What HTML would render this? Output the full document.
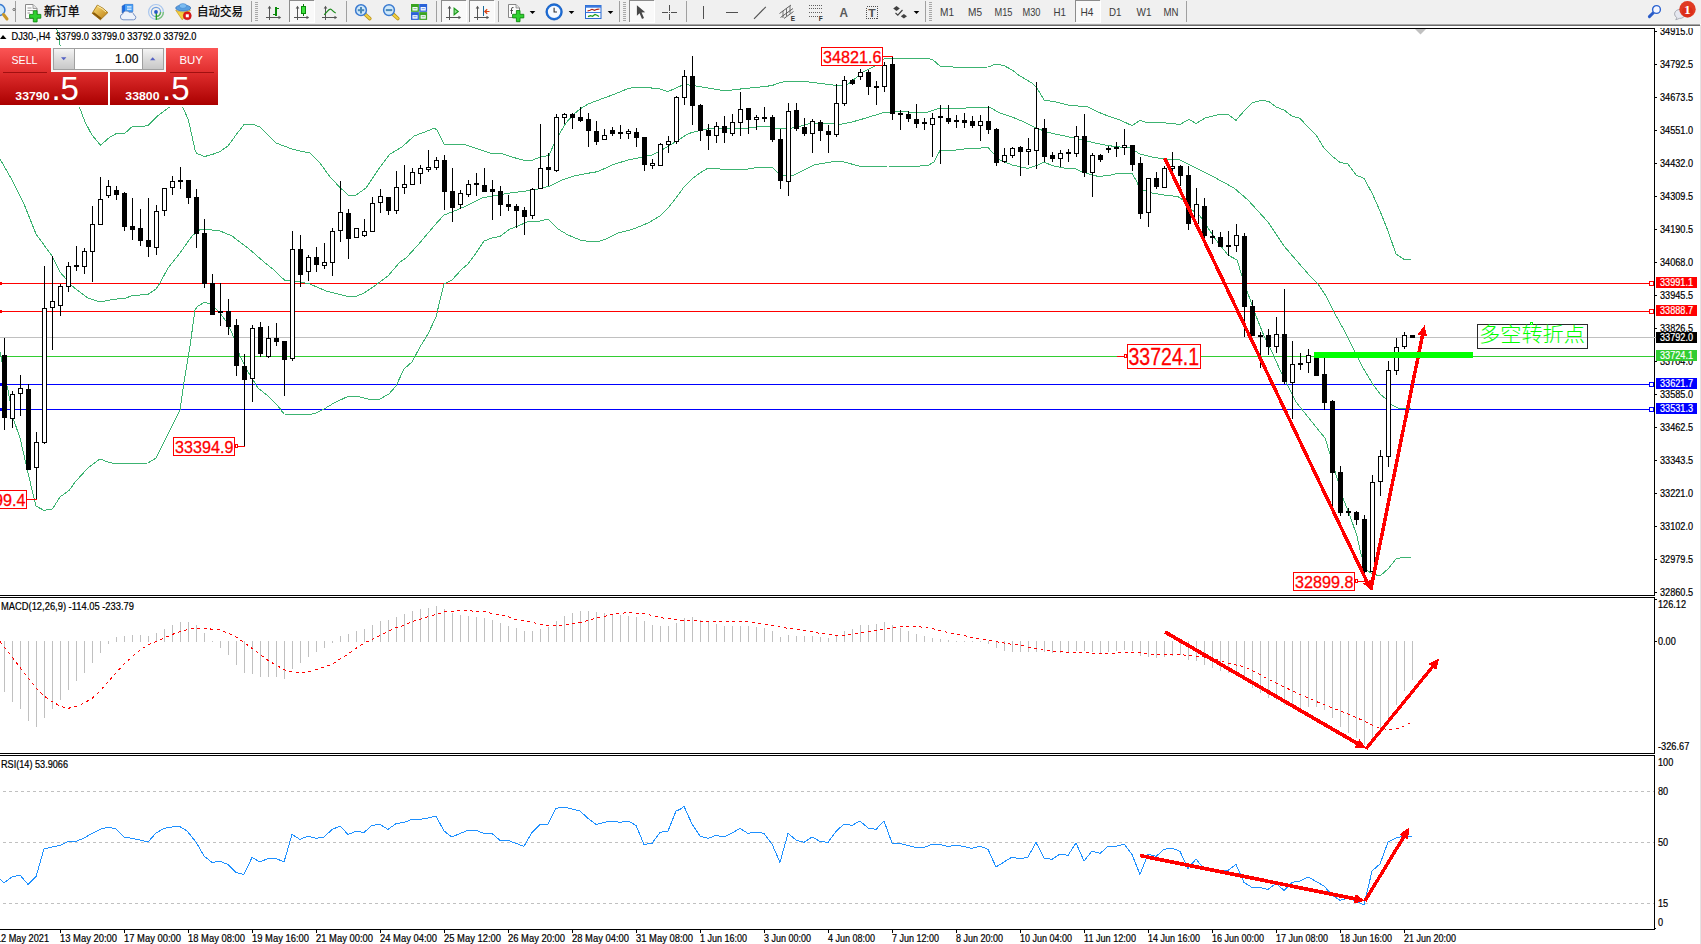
<!DOCTYPE html>
<html lang="zh"><head><meta charset="utf-8"><title>DJ30-,H4</title>
<style>html,body{margin:0;padding:0;background:#fff;overflow:hidden}svg{display:block}text{font-family:"Liberation Sans","Noto Sans CJK SC",sans-serif}.ce{shape-rendering:crispEdges}.ax{font-size:10.1px;fill:#000;stroke:#000;stroke-width:0.2px}.tb{font-size:11px;fill:#3c3c3c}</style></head><body>
<svg width="1701" height="944" viewBox="0 0 1701 944">
<defs><linearGradient id="gr" x1="0" y1="0" x2="0" y2="1"><stop offset="0" stop-color="#fb5555"/><stop offset="0.42" stop-color="#e02e2e"/><stop offset="1" stop-color="#aa0000"/></linearGradient><linearGradient id="gb" x1="0" y1="0" x2="0" y2="1"><stop offset="0" stop-color="#f4f4f4"/><stop offset="0.5" stop-color="#dcdcdc"/><stop offset="1" stop-color="#c8c8c8"/></linearGradient><linearGradient id="gold" x1="0" y1="0" x2="1" y2="1"><stop offset="0" stop-color="#ffe27a"/><stop offset="1" stop-color="#b87a10"/></linearGradient><linearGradient id="blu" x1="0" y1="0" x2="0" y2="1"><stop offset="0" stop-color="#6fb4f7"/><stop offset="1" stop-color="#1c5fd0"/></linearGradient><radialGradient id="lens" cx="0.4" cy="0.35" r="0.7"><stop offset="0" stop-color="#ffffff"/><stop offset="1" stop-color="#9cc8f5"/></radialGradient></defs>
<rect x="0" y="0" width="1701" height="944" fill="#ffffff"/>
<g id="chart">
<rect class="ce" x="0" y="337" width="1654" height="1" fill="#c0c0c0"/>
<rect class="ce" x="0" y="283" width="1654" height="1" fill="#ff0000"/>
<rect class="ce" x="0" y="311" width="1654" height="1" fill="#ff0000"/>
<rect class="ce" x="0" y="356" width="1654" height="1" fill="#32cd32"/>
<rect class="ce" x="0" y="384" width="1654" height="1" fill="#0000ff"/>
<rect class="ce" x="0" y="409" width="1654" height="1" fill="#0000ff"/>
<rect class="ce" x="1649" y="281" width="5" height="5" fill="#ff0000"/><rect class="ce" x="1650" y="282" width="3" height="3" fill="#fff"/>
<rect class="ce" x="0" y="282" width="2" height="3" fill="#ff0000"/>
<rect class="ce" x="1649" y="309" width="5" height="5" fill="#ff0000"/><rect class="ce" x="1650" y="310" width="3" height="3" fill="#fff"/>
<rect class="ce" x="0" y="310" width="2" height="3" fill="#ff0000"/>
<rect class="ce" x="1649" y="382" width="5" height="5" fill="#0000ff"/><rect class="ce" x="1650" y="383" width="3" height="3" fill="#fff"/>
<rect class="ce" x="0" y="383" width="2" height="3" fill="#0000ff"/>
<rect class="ce" x="1649" y="407" width="5" height="5" fill="#0000ff"/><rect class="ce" x="1650" y="408" width="3" height="3" fill="#fff"/>
<rect class="ce" x="0" y="408" width="2" height="3" fill="#0000ff"/>
<polyline class="ce" points="56.3,28.5 57.5,30.5 57.5,34.5 59.4,37.0 59.5,44.8 60.6,45.8 66.0,66.0 72.0,86.0 79.4,107.1 81.2,111.8 84.7,121.2 91.7,134.7 100.6,145.3 109.4,137.4 116.4,133.5 124.7,133.5 132.3,126.5 143.5,126.5 148.8,124.9 157.6,115.9 169.3,107.3 173.0,103.0 176.0,101.0 179.0,103.0 182.3,107.1 184.2,110.0 188.5,120.6 190.6,130.0 193.2,141.8 195.4,151.3 197.0,153.4 204.4,156.6 212.8,154.3 219.9,151.6 228.0,146.0 236.0,135.0 244.0,124.4 252.0,124.0 260.0,127.0 268.0,135.0 276.0,143.0 284.0,146.0 292.0,149.0 300.0,151.0 310.0,153.0 320.0,163.0 330.0,177.0 339.6,187.0 349.0,196.0 356.0,195.0 366.0,188.0 378.0,170.0 390.0,154.0 402.0,147.0 414.0,136.0 430.0,130.0 434.0,128.0 437.0,130.0 444.0,144.0 455.0,144.5 466.0,145.0 478.0,149.0 490.0,153.0 502.0,153.6 514.0,157.6 524.0,160.4 532.0,160.4 540.0,157.0 549.0,155.6 554.0,144.0 560.0,133.0 566.0,123.0 573.0,115.0 580.0,109.0 588.0,104.0 604.0,98.0 616.0,93.6 628.0,88.6 636.0,87.2 648.0,87.6 660.0,89.0 668.0,91.6 676.0,88.0 684.0,84.4 696.0,86.0 708.0,88.0 720.0,90.0 732.0,90.0 744.0,88.6 760.0,87.0 772.0,85.6 780.0,82.6 788.0,81.0 800.0,81.0 812.0,82.4 820.0,83.4 828.0,84.4 836.0,85.3 841.0,85.5 847.0,85.0 854.0,79.5 857.7,76.5 863.0,71.8 875.0,66.0 883.0,59.6 884.5,58.5 900.0,58.5 928.0,58.4 933.0,60.0 940.0,66.0 960.0,67.6 988.0,67.0 996.0,64.0 1004.0,65.6 1012.0,70.0 1020.0,76.0 1032.0,83.0 1037.0,88.0 1044.0,100.0 1056.0,102.0 1068.0,105.0 1088.0,107.0 1098.0,112.0 1108.0,116.0 1120.0,120.0 1132.0,125.6 1140.0,120.4 1148.0,123.0 1160.0,122.4 1180.0,124.4 1189.0,119.4 1196.0,123.4 1206.0,117.6 1220.0,114.4 1228.0,114.4 1236.0,120.4 1244.0,111.0 1252.0,103.0 1262.0,100.0 1269.0,101.6 1276.0,107.0 1284.0,110.0 1292.0,116.0 1300.0,118.4 1308.0,127.0 1316.0,135.0 1324.0,148.0 1332.0,156.0 1340.0,162.4 1348.0,164.0 1356.0,175.0 1364.0,178.4 1372.0,193.0 1380.0,211.0 1388.0,231.0 1396.0,254.0 1404.0,259.4 1411.4,259.2" fill="none" stroke="#3cb371" stroke-width="1" stroke-linejoin="round"/>
<polyline class="ce" points="0.0,159.0 12.0,180.0 24.0,204.0 36.0,234.0 52.0,256.0 60.0,272.0 72.0,286.0 88.0,298.0 100.0,302.0 112.0,299.6 126.0,298.0 132.0,295.6 148.0,294.4 156.0,289.0 160.0,283.0 168.0,268.0 180.0,253.0 192.0,236.0 200.0,229.6 212.0,230.0 220.0,231.0 232.0,236.0 248.0,248.0 264.0,262.0 274.0,270.0 280.0,276.0 285.0,280.4 300.0,282.0 310.0,284.0 326.0,291.0 348.0,296.4 356.0,296.4 364.0,293.0 376.0,285.0 388.0,276.0 400.0,262.0 406.0,258.0 418.0,245.0 434.0,226.0 444.0,215.0 452.0,212.0 466.0,206.0 482.0,198.0 498.0,195.0 510.0,193.0 526.0,191.0 538.0,189.0 550.0,186.0 562.0,180.0 574.0,176.0 586.0,173.6 598.0,171.6 612.0,165.0 628.0,160.0 640.0,157.6 652.0,155.0 660.0,151.0 672.0,144.0 680.0,139.0 686.0,135.0 692.0,132.4 700.0,130.4 712.0,128.0 724.0,128.0 736.0,129.0 748.0,128.0 760.0,126.6 768.0,126.4 780.0,129.0 792.0,128.0 800.0,126.4 812.0,123.0 828.0,123.0 840.0,124.4 852.0,122.0 866.0,118.0 884.0,112.4 900.0,111.6 916.0,112.4 928.0,112.0 940.0,108.0 960.0,108.4 980.0,107.0 989.0,107.0 1000.0,113.0 1012.0,117.0 1024.0,122.0 1036.0,128.0 1048.0,132.4 1060.0,135.0 1072.0,137.6 1086.0,141.0 1098.0,143.6 1108.0,145.6 1120.0,147.0 1130.0,148.0 1140.0,154.0 1152.0,157.0 1164.0,159.0 1180.0,160.0 1196.0,168.0 1212.0,176.0 1234.0,188.0 1248.0,200.0 1268.0,222.0 1284.0,246.0 1296.0,260.0 1310.0,276.0 1318.0,284.0 1326.0,296.0 1334.0,312.0 1344.0,330.0 1354.0,350.0 1362.0,366.0 1372.0,383.0 1380.0,394.0 1386.0,399.0 1392.0,405.0 1398.0,408.0 1411.0,408.4" fill="none" stroke="#3cb371" stroke-width="1" stroke-linejoin="round"/>
<polyline class="ce" points="0.0,352.0 4.0,372.0 8.0,390.0 13.0,418.0 20.0,438.0 26.0,464.0 32.0,490.0 36.0,506.0 44.0,510.4 52.4,509.0 60.0,497.0 69.0,490.4 76.0,481.0 88.0,468.0 100.0,459.0 108.0,462.0 116.0,464.0 128.0,463.4 148.0,463.0 156.0,458.0 160.0,450.0 175.0,420.0 180.0,410.0 184.0,382.0 190.0,346.0 195.0,310.0 198.0,306.0 205.0,302.0 212.0,305.0 220.0,313.0 228.0,324.0 234.0,338.0 240.0,356.0 248.0,372.0 258.0,388.0 268.0,396.0 278.0,406.0 284.0,414.0 300.0,414.4 310.0,414.4 316.0,413.0 324.0,409.0 334.0,403.0 348.0,396.4 358.0,396.4 368.0,399.0 380.0,399.0 389.0,394.0 396.0,386.0 404.0,369.0 412.0,362.0 420.0,347.0 428.0,334.0 436.0,317.0 440.0,300.0 444.0,284.0 452.0,280.0 462.0,269.0 468.0,264.0 474.0,256.0 484.0,241.0 492.0,238.0 500.0,236.4 510.0,229.0 518.0,226.0 528.0,221.6 540.0,221.0 548.0,219.0 558.0,229.0 568.0,235.0 580.0,240.0 590.0,241.6 600.0,241.0 606.0,239.0 618.0,233.0 630.0,230.0 634.0,228.8 648.0,223.0 660.0,216.0 668.0,208.0 676.0,198.0 684.0,187.0 692.0,179.0 700.0,173.0 708.0,168.0 720.0,169.0 736.0,169.6 748.0,169.0 760.0,167.0 772.0,167.0 778.0,173.0 782.0,176.0 794.0,175.0 804.0,170.0 814.0,165.0 828.0,162.4 840.0,161.0 848.0,163.0 860.0,166.4 888.0,166.0 912.0,166.4 928.0,165.6 934.0,162.0 940.0,150.6 948.0,151.0 964.0,149.0 988.0,147.6 994.0,154.0 1000.0,160.0 1012.0,165.0 1028.0,168.4 1038.0,165.0 1044.0,162.0 1052.0,165.6 1064.0,168.0 1076.0,169.0 1082.0,172.0 1098.0,176.4 1108.0,175.6 1120.0,173.0 1132.0,173.6 1136.0,180.0 1140.0,189.0 1152.0,193.0 1164.0,195.0 1178.0,196.6 1183.0,200.0 1192.0,210.0 1200.0,216.0 1208.0,228.0 1216.0,240.0 1228.0,255.0 1237.0,260.0 1242.0,276.0 1247.0,291.0 1256.0,316.0 1264.0,336.0 1272.0,352.0 1280.0,370.0 1288.0,386.0 1296.0,402.0 1304.0,412.0 1312.0,422.0 1320.0,432.0 1325.0,438.0 1330.0,454.0 1337.0,478.0 1343.0,498.0 1350.0,516.0 1357.0,536.0 1361.0,554.0 1366.0,570.0 1373.0,574.0 1380.0,576.0 1388.0,569.0 1396.0,559.0 1404.0,557.0 1411.4,557.0" fill="none" stroke="#3cb371" stroke-width="1" stroke-linejoin="round"/>
<g class="ce" fill="#000"><rect x="4" y="338" width="1" height="92"/><rect x="2" y="355" width="5" height="63"/><rect x="12" y="391" width="1" height="37"/><rect x="10" y="394" width="5" height="25"/><rect x="11" y="395" width="3" height="23" fill="#fff"/><rect x="20" y="375" width="1" height="41"/><rect x="18" y="388" width="5" height="6"/><rect x="19" y="389" width="3" height="4" fill="#fff"/><rect x="28" y="384" width="1" height="86"/><rect x="26" y="389" width="5" height="81"/><rect x="36" y="432" width="1" height="68"/><rect x="34" y="442" width="5" height="26"/><rect x="35" y="443" width="3" height="24" fill="#fff"/><rect x="44" y="266" width="1" height="178"/><rect x="42" y="308" width="5" height="135"/><rect x="43" y="309" width="3" height="133" fill="#fff"/><rect x="52" y="256" width="1" height="94"/><rect x="50" y="301" width="5" height="7"/><rect x="51" y="302" width="3" height="5" fill="#fff"/><rect x="60" y="284" width="1" height="32"/><rect x="58" y="286" width="5" height="20"/><rect x="59" y="287" width="3" height="18" fill="#fff"/><rect x="68" y="262" width="1" height="30"/><rect x="66" y="266" width="5" height="21"/><rect x="67" y="267" width="3" height="19" fill="#fff"/><rect x="76" y="246" width="1" height="25"/><rect x="74" y="265" width="5" height="2"/><rect x="84" y="248" width="1" height="26"/><rect x="82" y="251" width="5" height="16"/><rect x="83" y="252" width="3" height="14" fill="#fff"/><rect x="92" y="206" width="1" height="76"/><rect x="90" y="224" width="5" height="28"/><rect x="91" y="225" width="3" height="26" fill="#fff"/><rect x="100" y="177" width="1" height="48"/><rect x="98" y="199" width="5" height="26"/><rect x="99" y="200" width="3" height="24" fill="#fff"/><rect x="108" y="180" width="1" height="18"/><rect x="106" y="186" width="5" height="10"/><rect x="107" y="187" width="3" height="8" fill="#fff"/><rect x="116" y="186" width="1" height="14"/><rect x="114" y="190" width="5" height="5"/><rect x="124" y="192" width="1" height="39"/><rect x="122" y="193" width="5" height="34"/><rect x="132" y="198" width="1" height="42"/><rect x="130" y="226" width="5" height="4"/><rect x="140" y="209" width="1" height="37"/><rect x="138" y="228" width="5" height="13"/><rect x="148" y="198" width="1" height="59"/><rect x="146" y="240" width="5" height="7"/><rect x="156" y="205" width="1" height="50"/><rect x="154" y="211" width="5" height="37"/><rect x="155" y="212" width="3" height="35" fill="#fff"/><rect x="164" y="188" width="1" height="28"/><rect x="162" y="188" width="5" height="23"/><rect x="163" y="189" width="3" height="21" fill="#fff"/><rect x="172" y="176" width="1" height="19"/><rect x="170" y="181" width="5" height="7"/><rect x="171" y="182" width="3" height="5" fill="#fff"/><rect x="180" y="167" width="1" height="22"/><rect x="178" y="180" width="5" height="2"/><rect x="188" y="180" width="1" height="24"/><rect x="186" y="180" width="5" height="18"/><rect x="196" y="189" width="1" height="59"/><rect x="194" y="197" width="5" height="37"/><rect x="204" y="219" width="1" height="69"/><rect x="202" y="233" width="5" height="51"/><rect x="212" y="274" width="1" height="41"/><rect x="210" y="283" width="5" height="32"/><rect x="220" y="283" width="1" height="43"/><rect x="218" y="311" width="5" height="2"/><rect x="228" y="299" width="1" height="36"/><rect x="226" y="311" width="5" height="16"/><rect x="236" y="319" width="1" height="57"/><rect x="234" y="325" width="5" height="41"/><rect x="244" y="354" width="1" height="93"/><rect x="242" y="366" width="5" height="14"/><rect x="252" y="325" width="1" height="77"/><rect x="250" y="328" width="5" height="51"/><rect x="251" y="329" width="3" height="49" fill="#fff"/><rect x="260" y="322" width="1" height="35"/><rect x="258" y="327" width="5" height="27"/><rect x="268" y="326" width="1" height="32"/><rect x="266" y="338" width="5" height="19"/><rect x="267" y="339" width="3" height="17" fill="#fff"/><rect x="276" y="323" width="1" height="23"/><rect x="274" y="338" width="5" height="4"/><rect x="284" y="341" width="1" height="55"/><rect x="282" y="341" width="5" height="19"/><rect x="292" y="231" width="1" height="130"/><rect x="290" y="249" width="5" height="110"/><rect x="291" y="250" width="3" height="108" fill="#fff"/><rect x="300" y="235" width="1" height="52"/><rect x="298" y="249" width="5" height="26"/><rect x="308" y="255" width="1" height="26"/><rect x="306" y="257" width="5" height="15"/><rect x="307" y="258" width="3" height="13" fill="#fff"/><rect x="316" y="247" width="1" height="25"/><rect x="314" y="257" width="5" height="8"/><rect x="324" y="243" width="1" height="26"/><rect x="322" y="262" width="5" height="4"/><rect x="323" y="263" width="3" height="2" fill="#fff"/><rect x="332" y="228" width="1" height="48"/><rect x="330" y="231" width="5" height="32"/><rect x="331" y="232" width="3" height="30" fill="#fff"/><rect x="340" y="181" width="1" height="61"/><rect x="338" y="212" width="5" height="19"/><rect x="339" y="213" width="3" height="17" fill="#fff"/><rect x="348" y="209" width="1" height="50"/><rect x="346" y="213" width="5" height="26"/><rect x="356" y="228" width="1" height="10"/><rect x="354" y="228" width="5" height="10"/><rect x="355" y="229" width="3" height="8" fill="#fff"/><rect x="364" y="219" width="1" height="18"/><rect x="362" y="231" width="5" height="5"/><rect x="363" y="232" width="3" height="3" fill="#fff"/><rect x="372" y="197" width="1" height="35"/><rect x="370" y="203" width="5" height="29"/><rect x="371" y="204" width="3" height="27" fill="#fff"/><rect x="380" y="189" width="1" height="24"/><rect x="378" y="196" width="5" height="7"/><rect x="379" y="197" width="3" height="5" fill="#fff"/><rect x="388" y="197" width="1" height="18"/><rect x="386" y="197" width="5" height="14"/><rect x="396" y="171" width="1" height="43"/><rect x="394" y="187" width="5" height="24"/><rect x="395" y="188" width="3" height="22" fill="#fff"/><rect x="404" y="165" width="1" height="29"/><rect x="402" y="184" width="5" height="4"/><rect x="403" y="185" width="3" height="2" fill="#fff"/><rect x="412" y="168" width="1" height="17"/><rect x="410" y="172" width="5" height="13"/><rect x="411" y="173" width="3" height="11" fill="#fff"/><rect x="420" y="165" width="1" height="19"/><rect x="418" y="168" width="5" height="6"/><rect x="419" y="169" width="3" height="4" fill="#fff"/><rect x="428" y="150" width="1" height="22"/><rect x="426" y="167" width="5" height="3"/><rect x="427" y="168" width="3" height="1" fill="#fff"/><rect x="436" y="157" width="1" height="13"/><rect x="434" y="160" width="5" height="8"/><rect x="435" y="161" width="3" height="6" fill="#fff"/><rect x="444" y="155" width="1" height="55"/><rect x="442" y="160" width="5" height="32"/><rect x="452" y="168" width="1" height="54"/><rect x="450" y="191" width="5" height="17"/><rect x="460" y="190" width="1" height="19"/><rect x="458" y="193" width="5" height="12"/><rect x="459" y="194" width="3" height="10" fill="#fff"/><rect x="468" y="180" width="1" height="17"/><rect x="466" y="184" width="5" height="11"/><rect x="467" y="185" width="3" height="9" fill="#fff"/><rect x="476" y="173" width="1" height="23"/><rect x="474" y="183" width="5" height="2"/><rect x="484" y="168" width="1" height="24"/><rect x="482" y="185" width="5" height="7"/><rect x="492" y="180" width="1" height="40"/><rect x="490" y="189" width="5" height="3"/><rect x="500" y="186" width="1" height="30"/><rect x="498" y="191" width="5" height="14"/><rect x="508" y="195" width="1" height="16"/><rect x="506" y="204" width="5" height="3"/><rect x="516" y="204" width="1" height="24"/><rect x="514" y="206" width="5" height="5"/><rect x="524" y="207" width="1" height="28"/><rect x="522" y="210" width="5" height="7"/><rect x="532" y="188" width="1" height="31"/><rect x="530" y="189" width="5" height="27"/><rect x="531" y="190" width="3" height="25" fill="#fff"/><rect x="540" y="124" width="1" height="65"/><rect x="538" y="168" width="5" height="21"/><rect x="539" y="169" width="3" height="19" fill="#fff"/><rect x="548" y="153" width="1" height="33"/><rect x="546" y="167" width="5" height="3"/><rect x="556" y="114" width="1" height="58"/><rect x="554" y="117" width="5" height="54"/><rect x="555" y="118" width="3" height="52" fill="#fff"/><rect x="564" y="113" width="1" height="11"/><rect x="562" y="114" width="5" height="4"/><rect x="563" y="115" width="3" height="2" fill="#fff"/><rect x="572" y="113" width="1" height="16"/><rect x="570" y="114" width="5" height="4"/><rect x="580" y="107" width="1" height="15"/><rect x="578" y="117" width="5" height="4"/><rect x="588" y="113" width="1" height="34"/><rect x="586" y="119" width="5" height="12"/><rect x="596" y="121" width="1" height="24"/><rect x="594" y="131" width="5" height="11"/><rect x="604" y="129" width="1" height="11"/><rect x="602" y="135" width="5" height="5"/><rect x="603" y="136" width="3" height="3" fill="#fff"/><rect x="612" y="127" width="1" height="9"/><rect x="610" y="130" width="5" height="4"/><rect x="620" y="125" width="1" height="14"/><rect x="618" y="132" width="5" height="2"/><rect x="628" y="129" width="1" height="10"/><rect x="626" y="131" width="5" height="3"/><rect x="627" y="132" width="3" height="1" fill="#fff"/><rect x="636" y="128" width="1" height="19"/><rect x="634" y="132" width="5" height="6"/><rect x="644" y="137" width="1" height="34"/><rect x="642" y="137" width="5" height="28"/><rect x="652" y="159" width="1" height="10"/><rect x="650" y="163" width="5" height="3"/><rect x="651" y="164" width="3" height="1" fill="#fff"/><rect x="660" y="143" width="1" height="23"/><rect x="658" y="144" width="5" height="22"/><rect x="659" y="145" width="3" height="20" fill="#fff"/><rect x="668" y="136" width="1" height="17"/><rect x="666" y="141" width="5" height="4"/><rect x="667" y="142" width="3" height="2" fill="#fff"/><rect x="676" y="96" width="1" height="48"/><rect x="674" y="97" width="5" height="45"/><rect x="675" y="98" width="3" height="43" fill="#fff"/><rect x="684" y="70" width="1" height="35"/><rect x="682" y="76" width="5" height="22"/><rect x="683" y="77" width="3" height="20" fill="#fff"/><rect x="692" y="56" width="1" height="69"/><rect x="690" y="76" width="5" height="30"/><rect x="700" y="104" width="1" height="37"/><rect x="698" y="105" width="5" height="26"/><rect x="708" y="124" width="1" height="26"/><rect x="706" y="130" width="5" height="6"/><rect x="716" y="122" width="1" height="21"/><rect x="714" y="126" width="5" height="10"/><rect x="715" y="127" width="3" height="8" fill="#fff"/><rect x="724" y="116" width="1" height="27"/><rect x="722" y="126" width="5" height="7"/><rect x="732" y="114" width="1" height="22"/><rect x="730" y="122" width="5" height="12"/><rect x="731" y="123" width="3" height="10" fill="#fff"/><rect x="740" y="92" width="1" height="44"/><rect x="738" y="109" width="5" height="14"/><rect x="739" y="110" width="3" height="12" fill="#fff"/><rect x="748" y="108" width="1" height="26"/><rect x="746" y="108" width="5" height="12"/><rect x="756" y="115" width="1" height="15"/><rect x="754" y="117" width="5" height="3"/><rect x="755" y="118" width="3" height="1" fill="#fff"/><rect x="764" y="107" width="1" height="15"/><rect x="762" y="117" width="5" height="2"/><rect x="772" y="115" width="1" height="27"/><rect x="770" y="117" width="5" height="23"/><rect x="780" y="129" width="1" height="60"/><rect x="778" y="139" width="5" height="42"/><rect x="788" y="103" width="1" height="93"/><rect x="786" y="111" width="5" height="71"/><rect x="787" y="112" width="3" height="69" fill="#fff"/><rect x="796" y="103" width="1" height="28"/><rect x="794" y="110" width="5" height="19"/><rect x="804" y="118" width="1" height="18"/><rect x="802" y="127" width="5" height="7"/><rect x="812" y="119" width="1" height="34"/><rect x="810" y="121" width="5" height="13"/><rect x="811" y="122" width="3" height="11" fill="#fff"/><rect x="820" y="120" width="1" height="21"/><rect x="818" y="122" width="5" height="9"/><rect x="828" y="125" width="1" height="28"/><rect x="826" y="131" width="5" height="4"/><rect x="836" y="84" width="1" height="53"/><rect x="834" y="103" width="5" height="32"/><rect x="835" y="104" width="3" height="30" fill="#fff"/><rect x="844" y="76" width="1" height="30"/><rect x="842" y="80" width="5" height="24"/><rect x="843" y="81" width="3" height="22" fill="#fff"/><rect x="852" y="79" width="1" height="6"/><rect x="850" y="80" width="5" height="4"/><rect x="860" y="69" width="1" height="11"/><rect x="858" y="72" width="5" height="5"/><rect x="859" y="73" width="3" height="3" fill="#fff"/><rect x="868" y="70" width="1" height="25"/><rect x="866" y="72" width="5" height="15"/><rect x="876" y="81" width="1" height="24"/><rect x="874" y="86" width="5" height="2"/><rect x="884" y="62" width="1" height="30"/><rect x="882" y="65" width="5" height="22"/><rect x="883" y="66" width="3" height="20" fill="#fff"/><rect x="892" y="56" width="1" height="64"/><rect x="890" y="64" width="5" height="50"/><rect x="900" y="110" width="1" height="20"/><rect x="898" y="113" width="5" height="2"/><rect x="908" y="111" width="1" height="11"/><rect x="906" y="114" width="5" height="5"/><rect x="916" y="104" width="1" height="24"/><rect x="914" y="119" width="5" height="5"/><rect x="924" y="118" width="1" height="12"/><rect x="922" y="122" width="5" height="2"/><rect x="932" y="113" width="1" height="44"/><rect x="930" y="118" width="5" height="7"/><rect x="931" y="119" width="3" height="5" fill="#fff"/><rect x="940" y="105" width="1" height="59"/><rect x="938" y="116" width="5" height="2"/><rect x="948" y="105" width="1" height="19"/><rect x="946" y="118" width="5" height="4"/><rect x="956" y="115" width="1" height="13"/><rect x="954" y="120" width="5" height="2"/><rect x="964" y="113" width="1" height="15"/><rect x="962" y="120" width="5" height="3"/><rect x="972" y="116" width="1" height="12"/><rect x="970" y="121" width="5" height="5"/><rect x="980" y="115" width="1" height="26"/><rect x="978" y="121" width="5" height="5"/><rect x="979" y="122" width="3" height="3" fill="#fff"/><rect x="988" y="106" width="1" height="28"/><rect x="986" y="121" width="5" height="9"/><rect x="996" y="128" width="1" height="38"/><rect x="994" y="129" width="5" height="34"/><rect x="1004" y="148" width="1" height="15"/><rect x="1002" y="155" width="5" height="7"/><rect x="1003" y="156" width="3" height="5" fill="#fff"/><rect x="1012" y="147" width="1" height="11"/><rect x="1010" y="148" width="5" height="8"/><rect x="1011" y="149" width="3" height="6" fill="#fff"/><rect x="1020" y="146" width="1" height="30"/><rect x="1018" y="147" width="5" height="5"/><rect x="1028" y="138" width="1" height="27"/><rect x="1026" y="149" width="5" height="3"/><rect x="1027" y="150" width="3" height="1" fill="#fff"/><rect x="1036" y="82" width="1" height="87"/><rect x="1034" y="128" width="5" height="23"/><rect x="1035" y="129" width="3" height="21" fill="#fff"/><rect x="1044" y="119" width="1" height="43"/><rect x="1042" y="128" width="5" height="29"/><rect x="1052" y="152" width="1" height="10"/><rect x="1050" y="155" width="5" height="4"/><rect x="1060" y="150" width="1" height="17"/><rect x="1058" y="153" width="5" height="6"/><rect x="1059" y="154" width="3" height="4" fill="#fff"/><rect x="1068" y="149" width="1" height="13"/><rect x="1066" y="152" width="5" height="2"/><rect x="1076" y="126" width="1" height="31"/><rect x="1074" y="136" width="5" height="18"/><rect x="1075" y="137" width="3" height="16" fill="#fff"/><rect x="1084" y="114" width="1" height="63"/><rect x="1082" y="136" width="5" height="37"/><rect x="1092" y="153" width="1" height="44"/><rect x="1090" y="155" width="5" height="18"/><rect x="1091" y="156" width="3" height="16" fill="#fff"/><rect x="1100" y="154" width="1" height="8"/><rect x="1098" y="155" width="5" height="5"/><rect x="1108" y="146" width="1" height="7"/><rect x="1106" y="148" width="5" height="2"/><rect x="1116" y="142" width="1" height="15"/><rect x="1114" y="147" width="5" height="2"/><rect x="1124" y="129" width="1" height="26"/><rect x="1122" y="145" width="5" height="3"/><rect x="1123" y="146" width="3" height="1" fill="#fff"/><rect x="1132" y="145" width="1" height="26"/><rect x="1130" y="145" width="5" height="20"/><rect x="1140" y="157" width="1" height="62"/><rect x="1138" y="163" width="5" height="51"/><rect x="1148" y="178" width="1" height="49"/><rect x="1146" y="178" width="5" height="35"/><rect x="1147" y="179" width="3" height="33" fill="#fff"/><rect x="1156" y="172" width="1" height="17"/><rect x="1154" y="178" width="5" height="9"/><rect x="1164" y="166" width="1" height="22"/><rect x="1162" y="168" width="5" height="20"/><rect x="1163" y="169" width="3" height="18" fill="#fff"/><rect x="1172" y="152" width="1" height="19"/><rect x="1170" y="166" width="5" height="3"/><rect x="1171" y="167" width="3" height="1" fill="#fff"/><rect x="1180" y="165" width="1" height="21"/><rect x="1178" y="166" width="5" height="10"/><rect x="1188" y="166" width="1" height="64"/><rect x="1186" y="175" width="5" height="49"/><rect x="1196" y="188" width="1" height="36"/><rect x="1194" y="204" width="5" height="20"/><rect x="1195" y="205" width="3" height="18" fill="#fff"/><rect x="1204" y="198" width="1" height="41"/><rect x="1202" y="206" width="5" height="30"/><rect x="1212" y="230" width="1" height="14"/><rect x="1210" y="236" width="5" height="2"/><rect x="1220" y="232" width="1" height="15"/><rect x="1218" y="237" width="5" height="10"/><rect x="1228" y="231" width="1" height="25"/><rect x="1226" y="245" width="5" height="2"/><rect x="1236" y="224" width="1" height="28"/><rect x="1234" y="235" width="5" height="11"/><rect x="1235" y="236" width="3" height="9" fill="#fff"/><rect x="1244" y="233" width="1" height="104"/><rect x="1242" y="236" width="5" height="71"/><rect x="1252" y="300" width="1" height="36"/><rect x="1250" y="306" width="5" height="30"/><rect x="1260" y="332" width="1" height="36"/><rect x="1258" y="335" width="5" height="2"/><rect x="1268" y="329" width="1" height="26"/><rect x="1266" y="335" width="5" height="12"/><rect x="1276" y="317" width="1" height="36"/><rect x="1274" y="334" width="5" height="13"/><rect x="1275" y="335" width="3" height="11" fill="#fff"/><rect x="1284" y="289" width="1" height="95"/><rect x="1282" y="334" width="5" height="48"/><rect x="1292" y="341" width="1" height="78"/><rect x="1290" y="364" width="5" height="19"/><rect x="1291" y="365" width="3" height="17" fill="#fff"/><rect x="1300" y="353" width="1" height="17"/><rect x="1298" y="363" width="5" height="2"/><rect x="1308" y="349" width="1" height="24"/><rect x="1306" y="355" width="5" height="8"/><rect x="1307" y="356" width="3" height="6" fill="#fff"/><rect x="1316" y="355" width="1" height="21"/><rect x="1314" y="355" width="5" height="21"/><rect x="1324" y="358" width="1" height="52"/><rect x="1322" y="374" width="5" height="29"/><rect x="1332" y="400" width="1" height="112"/><rect x="1330" y="401" width="5" height="72"/><rect x="1340" y="466" width="1" height="50"/><rect x="1338" y="472" width="5" height="41"/><rect x="1348" y="508" width="1" height="8"/><rect x="1346" y="511" width="5" height="2"/><rect x="1356" y="511" width="1" height="14"/><rect x="1354" y="512" width="5" height="8"/><rect x="1364" y="515" width="1" height="66"/><rect x="1362" y="519" width="5" height="53"/><rect x="1372" y="475" width="1" height="104"/><rect x="1370" y="482" width="5" height="90"/><rect x="1371" y="483" width="3" height="88" fill="#fff"/><rect x="1380" y="450" width="1" height="46"/><rect x="1378" y="456" width="5" height="26"/><rect x="1379" y="457" width="3" height="24" fill="#fff"/><rect x="1388" y="361" width="1" height="106"/><rect x="1386" y="370" width="5" height="87"/><rect x="1387" y="371" width="3" height="85" fill="#fff"/><rect x="1396" y="338" width="1" height="37"/><rect x="1394" y="347" width="5" height="24"/><rect x="1395" y="348" width="3" height="22" fill="#fff"/><rect x="1404" y="332" width="1" height="17"/><rect x="1402" y="335" width="5" height="12"/><rect x="1403" y="336" width="3" height="10" fill="#fff"/><rect x="1412" y="335" width="1" height="3"/><rect x="1410" y="335" width="5" height="3"/></g>
<rect class="ce" x="173" y="437" width="62" height="19" fill="#ff0000"/><rect class="ce" x="174" y="438" width="60" height="17" fill="#fff"/>
<text x="175.0" y="453.0" font-size="16.8" fill="#ff0000" stroke="#ff0000" stroke-width="0.3" textLength="58.5" lengthAdjust="spacingAndGlyphs">33394.9</text>
<rect class="ce" x="235" y="444" width="3" height="4" fill="#f00"/><rect class="ce" x="236" y="445" width="1" height="2" fill="#fff"/>
<rect class="ce" x="238" y="446" width="7" height="1" fill="#f00"/>
<rect class="ce" x="-35" y="490" width="62" height="19" fill="#ff0000"/><rect class="ce" x="-34" y="491" width="60" height="17" fill="#fff"/>
<text x="-33.0" y="506.0" font-size="16.8" fill="#ff0000" stroke="#ff0000" stroke-width="0.3" textLength="58.5" lengthAdjust="spacingAndGlyphs">33199.4</text>
<rect class="ce" x="27" y="499" width="10" height="1" fill="#f00"/>
<rect class="ce" x="821" y="47" width="62" height="19" fill="#ff0000"/><rect class="ce" x="822" y="48" width="60" height="17" fill="#fff"/>
<text x="823.0" y="63.0" font-size="16.8" fill="#ff0000" stroke="#ff0000" stroke-width="0.3" textLength="58.5" lengthAdjust="spacingAndGlyphs">34821.6</text>
<rect class="ce" x="883" y="56" width="10" height="1" fill="#f00"/>
<rect class="ce" x="1293" y="572" width="62" height="19" fill="#ff0000"/><rect class="ce" x="1294" y="573" width="60" height="17" fill="#fff"/>
<text x="1295.0" y="588.0" font-size="16.8" fill="#ff0000" stroke="#ff0000" stroke-width="0.3" textLength="58.5" lengthAdjust="spacingAndGlyphs">32899.8</text>
<rect class="ce" x="1355" y="579" width="3" height="4" fill="#f00"/><rect class="ce" x="1356" y="580" width="1" height="2" fill="#fff"/>
<rect class="ce" x="1358" y="581" width="7" height="1" fill="#f00"/>
<rect class="ce" x="1117" y="356" width="7" height="1" fill="#f00"/>
<rect class="ce" x="1124" y="354" width="3" height="4" fill="#f00"/><rect class="ce" x="1125" y="355" width="1" height="2" fill="#fff"/>
<rect class="ce" x="1127" y="344" width="74" height="25" fill="#ff0000"/><rect class="ce" x="1128" y="345" width="72" height="23" fill="#fff"/>
<text x="1128.5" y="365.0" font-size="23.3" fill="#ff0000" stroke="#ff0000" stroke-width="0.3" textLength="70.5" lengthAdjust="spacingAndGlyphs">33724.1</text>
<rect class="ce" x="1477.5" y="324.5" width="110" height="24" fill="none" stroke="#2a2a2a" stroke-width="1"/>
<rect class="ce" x="1530" y="322" width="3" height="3" fill="#00ff00"/><rect class="ce" x="1531" y="323" width="1" height="1" fill="#fff"/>
<text x="1479" y="342.4" font-size="20.6" fill="#00ff00" textLength="106" lengthAdjust="spacingAndGlyphs" style="font-family:'Liberation Sans','Noto Sans CJK SC',sans-serif;font-weight:300">多空转折点</text>
<line class="ce" x1="1164.7" y1="158.2" x2="1368.8" y2="585.6" stroke="#ff0000" stroke-width="3.4"/>
<polygon class="ce" points="1370.7,589.7 1363.0,583.4 1370.6,579.8" fill="#ff0000"/>
<line class="ce" x1="1370.7" y1="589.7" x2="1423.5" y2="330.3" stroke="#ff0000" stroke-width="3.5"/>
<polygon class="ce" points="1424.5,325.2 1427.1,336.4 1417.7,334.5" fill="#ff0000"/>
<rect class="ce" x="1314" y="352" width="159" height="6" fill="#00ff00"/>
</g>
<g id="axis">
<rect class="ce" x="1654" y="28" width="1" height="902" fill="#000"/>
<rect class="ce" x="1655" y="31" width="2" height="1" fill="#000"/>
<text class="ax" x="1660" y="35" textLength="33" lengthAdjust="spacingAndGlyphs">34915.0</text>
<rect class="ce" x="1655" y="64" width="2" height="1" fill="#000"/>
<text class="ax" x="1660" y="68" textLength="33" lengthAdjust="spacingAndGlyphs">34792.5</text>
<rect class="ce" x="1655" y="97" width="2" height="1" fill="#000"/>
<text class="ax" x="1660" y="101" textLength="33" lengthAdjust="spacingAndGlyphs">34673.5</text>
<rect class="ce" x="1655" y="130" width="2" height="1" fill="#000"/>
<text class="ax" x="1660" y="134" textLength="33" lengthAdjust="spacingAndGlyphs">34551.0</text>
<rect class="ce" x="1655" y="163" width="2" height="1" fill="#000"/>
<text class="ax" x="1660" y="167" textLength="33" lengthAdjust="spacingAndGlyphs">34432.0</text>
<rect class="ce" x="1655" y="196" width="2" height="1" fill="#000"/>
<text class="ax" x="1660" y="200" textLength="33" lengthAdjust="spacingAndGlyphs">34309.5</text>
<rect class="ce" x="1655" y="229" width="2" height="1" fill="#000"/>
<text class="ax" x="1660" y="233" textLength="33" lengthAdjust="spacingAndGlyphs">34190.5</text>
<rect class="ce" x="1655" y="262" width="2" height="1" fill="#000"/>
<text class="ax" x="1660" y="266" textLength="33" lengthAdjust="spacingAndGlyphs">34068.0</text>
<rect class="ce" x="1655" y="295" width="2" height="1" fill="#000"/>
<text class="ax" x="1660" y="299" textLength="33" lengthAdjust="spacingAndGlyphs">33945.5</text>
<rect class="ce" x="1655" y="328" width="2" height="1" fill="#000"/>
<text class="ax" x="1660" y="332" textLength="33" lengthAdjust="spacingAndGlyphs">33826.5</text>
<rect class="ce" x="1655" y="361" width="2" height="1" fill="#000"/>
<text class="ax" x="1660" y="365" textLength="33" lengthAdjust="spacingAndGlyphs">33704.0</text>
<rect class="ce" x="1655" y="394" width="2" height="1" fill="#000"/>
<text class="ax" x="1660" y="398" textLength="33" lengthAdjust="spacingAndGlyphs">33585.0</text>
<rect class="ce" x="1655" y="427" width="2" height="1" fill="#000"/>
<text class="ax" x="1660" y="431" textLength="33" lengthAdjust="spacingAndGlyphs">33462.5</text>
<rect class="ce" x="1655" y="460" width="2" height="1" fill="#000"/>
<text class="ax" x="1660" y="464" textLength="33" lengthAdjust="spacingAndGlyphs">33343.5</text>
<rect class="ce" x="1655" y="493" width="2" height="1" fill="#000"/>
<text class="ax" x="1660" y="497" textLength="33" lengthAdjust="spacingAndGlyphs">33221.0</text>
<rect class="ce" x="1655" y="526" width="2" height="1" fill="#000"/>
<text class="ax" x="1660" y="530" textLength="33" lengthAdjust="spacingAndGlyphs">33102.0</text>
<rect class="ce" x="1655" y="559" width="2" height="1" fill="#000"/>
<text class="ax" x="1660" y="563" textLength="33" lengthAdjust="spacingAndGlyphs">32979.5</text>
<rect class="ce" x="1655" y="592" width="2" height="1" fill="#000"/>
<text class="ax" x="1660" y="596" textLength="33" lengthAdjust="spacingAndGlyphs">32860.5</text>
<rect class="ce" x="1654" y="337" width="2" height="1" fill="#c0c0c0"/>
<rect class="ce" x="1656" y="277" width="41" height="11" fill="#ff0000"/>
<text class="ax" x="1660" y="286" textLength="33" lengthAdjust="spacingAndGlyphs" style="fill:#fff;stroke:#fff">33991.1</text>
<rect class="ce" x="1656" y="305" width="41" height="11" fill="#ff0000"/>
<text class="ax" x="1660" y="314" textLength="33" lengthAdjust="spacingAndGlyphs" style="fill:#fff;stroke:#fff">33888.7</text>
<rect class="ce" x="1656" y="350" width="41" height="11" fill="#32cd32"/>
<text class="ax" x="1660" y="359" textLength="33" lengthAdjust="spacingAndGlyphs" style="fill:#fff;stroke:#fff">33724.1</text>
<rect class="ce" x="1656" y="332" width="41" height="11" fill="#000000"/>
<text class="ax" x="1660" y="341" textLength="33" lengthAdjust="spacingAndGlyphs" style="fill:#fff;stroke:#fff">33792.0</text>
<rect class="ce" x="1656" y="378" width="41" height="11" fill="#0000ff"/>
<text class="ax" x="1660" y="387" textLength="33" lengthAdjust="spacingAndGlyphs" style="fill:#fff;stroke:#fff">33621.7</text>
<rect class="ce" x="1656" y="403" width="41" height="11" fill="#0000ff"/>
<text class="ax" x="1660" y="412" textLength="33" lengthAdjust="spacingAndGlyphs" style="fill:#fff;stroke:#fff">33531.3</text>
</g>
<g class="ce" fill="#000">
<rect x="0" y="28" width="1655" height="1"/>
<rect x="0" y="595" width="1655" height="1"/>
<rect x="0" y="597" width="1655" height="1"/>
<rect x="0" y="753" width="1655" height="1"/>
<rect x="0" y="755" width="1655" height="1"/>
<rect x="0" y="929" width="1655" height="1"/>
</g>
<rect class="ce" x="0" y="596" width="1701" height="1" fill="#fff"/>
<rect class="ce" x="0" y="754" width="1701" height="1" fill="#fff"/>
<g id="macd">
<g class="ce" fill="#c0c0c0"><rect x="4" y="641" width="1" height="51"/><rect x="12" y="641" width="1" height="61"/><rect x="20" y="641" width="1" height="68"/><rect x="28" y="641" width="1" height="80"/><rect x="36" y="641" width="1" height="86"/><rect x="44" y="641" width="1" height="77"/><rect x="52" y="641" width="1" height="68"/><rect x="60" y="641" width="1" height="59"/><rect x="68" y="641" width="1" height="49"/><rect x="76" y="641" width="1" height="40"/><rect x="84" y="641" width="1" height="32"/><rect x="92" y="641" width="1" height="22"/><rect x="100" y="641" width="1" height="12"/><rect x="108" y="641" width="1" height="3"/><rect x="116" y="637" width="1" height="5"/><rect x="124" y="636" width="1" height="6"/><rect x="132" y="635" width="1" height="7"/><rect x="140" y="635" width="1" height="7"/><rect x="148" y="636" width="1" height="6"/><rect x="156" y="633" width="1" height="9"/><rect x="164" y="629" width="1" height="13"/><rect x="172" y="625" width="1" height="17"/><rect x="180" y="622" width="1" height="20"/><rect x="188" y="622" width="1" height="20"/><rect x="196" y="625" width="1" height="17"/><rect x="204" y="633" width="1" height="9"/><rect x="212" y="641" width="1" height="1"/><rect x="220" y="641" width="1" height="7"/><rect x="228" y="641" width="1" height="14"/><rect x="236" y="641" width="1" height="24"/><rect x="244" y="641" width="1" height="32"/><rect x="252" y="641" width="1" height="33"/><rect x="260" y="641" width="1" height="36"/><rect x="268" y="641" width="1" height="36"/><rect x="276" y="641" width="1" height="36"/><rect x="284" y="641" width="1" height="38"/><rect x="292" y="641" width="1" height="28"/><rect x="300" y="641" width="1" height="22"/><rect x="308" y="641" width="1" height="16"/><rect x="316" y="641" width="1" height="11"/><rect x="324" y="641" width="1" height="7"/><rect x="332" y="641" width="1" height="2"/><rect x="340" y="636" width="1" height="6"/><rect x="348" y="634" width="1" height="8"/><rect x="356" y="631" width="1" height="11"/><rect x="364" y="629" width="1" height="13"/><rect x="372" y="625" width="1" height="17"/><rect x="380" y="621" width="1" height="21"/><rect x="388" y="620" width="1" height="22"/><rect x="396" y="617" width="1" height="25"/><rect x="404" y="614" width="1" height="28"/><rect x="412" y="611" width="1" height="31"/><rect x="420" y="609" width="1" height="33"/><rect x="428" y="608" width="1" height="34"/><rect x="436" y="606" width="1" height="36"/><rect x="444" y="609" width="1" height="33"/><rect x="452" y="613" width="1" height="29"/><rect x="460" y="615" width="1" height="27"/><rect x="468" y="616" width="1" height="26"/><rect x="476" y="617" width="1" height="25"/><rect x="484" y="618" width="1" height="24"/><rect x="492" y="620" width="1" height="22"/><rect x="500" y="623" width="1" height="19"/><rect x="508" y="626" width="1" height="16"/><rect x="516" y="628" width="1" height="14"/><rect x="524" y="631" width="1" height="11"/><rect x="532" y="631" width="1" height="11"/><rect x="540" y="629" width="1" height="13"/><rect x="548" y="627" width="1" height="15"/><rect x="556" y="621" width="1" height="21"/><rect x="564" y="616" width="1" height="26"/><rect x="572" y="613" width="1" height="29"/><rect x="580" y="611" width="1" height="31"/><rect x="588" y="611" width="1" height="31"/><rect x="596" y="612" width="1" height="30"/><rect x="604" y="613" width="1" height="29"/><rect x="612" y="614" width="1" height="28"/><rect x="620" y="615" width="1" height="27"/><rect x="628" y="616" width="1" height="26"/><rect x="636" y="617" width="1" height="25"/><rect x="644" y="621" width="1" height="21"/><rect x="652" y="625" width="1" height="17"/><rect x="660" y="626" width="1" height="16"/><rect x="668" y="626" width="1" height="16"/><rect x="676" y="623" width="1" height="19"/><rect x="684" y="618" width="1" height="24"/><rect x="692" y="617" width="1" height="25"/><rect x="700" y="620" width="1" height="22"/><rect x="708" y="622" width="1" height="20"/><rect x="716" y="624" width="1" height="18"/><rect x="724" y="626" width="1" height="16"/><rect x="732" y="626" width="1" height="16"/><rect x="740" y="626" width="1" height="16"/><rect x="748" y="626" width="1" height="16"/><rect x="756" y="627" width="1" height="15"/><rect x="764" y="628" width="1" height="14"/><rect x="772" y="631" width="1" height="11"/><rect x="780" y="637" width="1" height="5"/><rect x="788" y="635" width="1" height="7"/><rect x="796" y="636" width="1" height="6"/><rect x="804" y="636" width="1" height="6"/><rect x="812" y="636" width="1" height="6"/><rect x="820" y="637" width="1" height="5"/><rect x="828" y="638" width="1" height="4"/><rect x="836" y="635" width="1" height="7"/><rect x="844" y="631" width="1" height="11"/><rect x="852" y="629" width="1" height="13"/><rect x="860" y="625" width="1" height="17"/><rect x="868" y="625" width="1" height="17"/><rect x="876" y="624" width="1" height="18"/><rect x="884" y="622" width="1" height="20"/><rect x="892" y="625" width="1" height="17"/><rect x="900" y="628" width="1" height="14"/><rect x="908" y="631" width="1" height="11"/><rect x="916" y="634" width="1" height="8"/><rect x="924" y="636" width="1" height="6"/><rect x="932" y="638" width="1" height="4"/><rect x="940" y="639" width="1" height="3"/><rect x="948" y="640" width="1" height="2"/><rect x="956" y="641" width="1" height="1"/><rect x="964" y="641" width="1" height="1"/><rect x="972" y="641" width="1" height="1"/><rect x="980" y="641" width="1" height="1"/><rect x="988" y="641" width="1" height="3"/><rect x="996" y="641" width="1" height="7"/><rect x="1004" y="641" width="1" height="10"/><rect x="1012" y="641" width="1" height="11"/><rect x="1020" y="641" width="1" height="11"/><rect x="1028" y="641" width="1" height="11"/><rect x="1036" y="641" width="1" height="11"/><rect x="1044" y="641" width="1" height="11"/><rect x="1052" y="641" width="1" height="12"/><rect x="1060" y="641" width="1" height="12"/><rect x="1068" y="641" width="1" height="11"/><rect x="1076" y="641" width="1" height="10"/><rect x="1084" y="641" width="1" height="10"/><rect x="1092" y="641" width="1" height="11"/><rect x="1100" y="641" width="1" height="12"/><rect x="1108" y="641" width="1" height="11"/><rect x="1116" y="641" width="1" height="10"/><rect x="1124" y="641" width="1" height="9"/><rect x="1132" y="641" width="1" height="10"/><rect x="1140" y="641" width="1" height="15"/><rect x="1148" y="641" width="1" height="16"/><rect x="1156" y="641" width="1" height="17"/><rect x="1164" y="641" width="1" height="16"/><rect x="1172" y="641" width="1" height="15"/><rect x="1180" y="641" width="1" height="14"/><rect x="1188" y="641" width="1" height="19"/><rect x="1196" y="641" width="1" height="20"/><rect x="1204" y="641" width="1" height="24"/><rect x="1212" y="641" width="1" height="27"/><rect x="1220" y="641" width="1" height="30"/><rect x="1228" y="641" width="1" height="32"/><rect x="1236" y="641" width="1" height="34"/><rect x="1244" y="641" width="1" height="37"/><rect x="1252" y="641" width="1" height="47"/><rect x="1260" y="641" width="1" height="52"/><rect x="1268" y="641" width="1" height="57"/><rect x="1276" y="641" width="1" height="59"/><rect x="1284" y="641" width="1" height="64"/><rect x="1292" y="641" width="1" height="64"/><rect x="1300" y="641" width="1" height="67"/><rect x="1308" y="641" width="1" height="66"/><rect x="1316" y="641" width="1" height="66"/><rect x="1324" y="641" width="1" height="69"/><rect x="1332" y="641" width="1" height="77"/><rect x="1340" y="641" width="1" height="86"/><rect x="1348" y="641" width="1" height="92"/><rect x="1356" y="641" width="1" height="97"/><rect x="1364" y="641" width="1" height="104"/><rect x="1372" y="641" width="1" height="100"/><rect x="1380" y="641" width="1" height="89"/><rect x="1388" y="641" width="1" height="79"/><rect x="1396" y="641" width="1" height="64"/><rect x="1404" y="641" width="1" height="50"/><rect x="1412" y="641" width="1" height="39"/></g>
<polyline points="0.0,641.6 8.0,652.0 16.0,662.0 28.0,678.0 36.0,688.0 44.0,696.0 52.0,701.6 60.0,706.0 68.0,708.4 76.0,706.4 84.0,703.0 92.0,698.4 100.0,691.0 108.0,682.0 116.0,673.0 124.0,664.0 132.0,657.0 140.0,650.0 148.0,645.0 156.0,641.6 164.0,638.0 172.0,634.6 180.0,631.6 188.0,629.6 196.0,628.2 204.0,628.2 212.0,629.2 220.0,630.0 228.0,633.0 236.0,637.0 244.0,642.4 252.0,648.4 260.0,654.4 268.0,660.4 276.0,665.0 284.0,669.6 292.0,672.0 300.0,673.0 308.0,672.0 316.0,669.6 324.0,667.0 332.0,664.6 340.0,659.0 348.0,654.0 356.0,648.4 364.0,643.0 372.0,639.4 380.0,635.4 388.0,631.4 396.0,627.4 404.0,625.4 412.0,621.4 420.0,619.4 428.0,616.6 436.0,614.6 444.0,612.0 452.0,611.6 460.0,610.4 468.0,610.4 476.0,611.6 484.0,611.6 492.0,613.6 500.0,614.6 508.0,616.6 516.0,619.6 524.0,620.8 532.0,622.0 540.0,624.4 548.0,625.6 556.0,625.6 564.0,625.4 572.0,623.6 580.0,622.6 588.0,620.4 596.0,618.0 604.0,616.6 612.0,614.4 620.0,613.6 628.0,612.4 636.0,613.6 644.0,613.6 652.0,615.4 660.0,617.6 668.0,618.6 676.0,619.4 682.0,620.4 692.0,620.4 700.0,621.4 716.0,621.4 732.0,622.0 740.0,621.4 748.0,622.0 756.0,623.0 764.0,624.4 772.0,625.4 780.0,627.0 788.0,628.4 796.0,629.4 804.0,630.4 812.0,631.6 820.0,633.4 828.0,634.4 836.0,635.4 844.0,635.4 852.0,634.4 860.0,633.0 868.0,631.6 876.0,630.4 884.0,629.0 892.0,627.6 900.0,626.6 908.0,626.4 916.0,626.4 924.0,627.4 932.0,628.6 940.0,630.4 948.0,632.4 956.0,634.0 964.0,635.4 972.0,637.4 980.0,639.0 988.0,640.4 996.0,641.6 1004.0,643.0 1012.0,644.4 1020.0,645.2 1028.0,647.0 1036.0,648.4 1044.0,649.4 1052.0,651.0 1060.0,651.6 1068.0,652.4 1084.0,652.8 1100.0,653.4 1116.0,653.0 1132.0,652.4 1140.0,652.4 1148.0,654.0 1164.0,654.6 1180.0,654.4 1188.0,655.6 1204.0,657.0 1220.0,660.4 1228.0,663.0 1236.0,665.0 1244.0,666.6 1252.0,670.4 1260.0,674.6 1268.0,679.0 1276.0,683.0 1284.0,687.0 1292.0,690.6 1300.0,694.6 1308.0,698.0 1316.0,701.4 1324.0,704.6 1332.0,708.0 1340.0,710.6 1348.0,714.0 1356.0,717.4 1364.0,721.0 1372.0,725.0 1380.0,728.0 1388.0,729.6 1396.0,729.0 1404.0,726.0 1411.0,722.4" class="ce" fill="none" stroke="#ff0000" stroke-width="1" stroke-dasharray="3,3.5"/>
<text class="ax" x="1" y="610" textLength="133" lengthAdjust="spacingAndGlyphs">MACD(12,26,9) -114.05 -233.79</text>
<line class="ce" x1="1165.0" y1="632.0" x2="1361.7" y2="746.0" stroke="#ff0000" stroke-width="3.7"/>
<polygon class="ce" points="1366.2,748.6 1354.7,747.5 1359.5,739.2" fill="#ff0000"/>
<line class="ce" x1="1366.2" y1="748.6" x2="1435.8" y2="662.7" stroke="#ff0000" stroke-width="3.3"/>
<polygon class="ce" points="1439.3,658.4 1436.3,670.1 1428.5,663.8" fill="#ff0000"/>
<text class="ax" x="1658.0" y="608.0" textLength="28.0" lengthAdjust="spacingAndGlyphs">126.12</text>
<text class="ax" x="1658.0" y="645.0" textLength="17.8" lengthAdjust="spacingAndGlyphs">0.00</text>
<text class="ax" x="1658.0" y="750.0" textLength="31.3" lengthAdjust="spacingAndGlyphs">-326.67</text>
<rect class="ce" x="1655" y="641" width="2" height="1" fill="#000"/>
<rect class="ce" x="1655" y="599" width="2" height="1" fill="#000"/>
</g>
<g id="rsi">
<line class="ce" x1="3" y1="791.5" x2="1654" y2="791.5" stroke="#c0c0c0" stroke-width="1" stroke-dasharray="3,3"/>
<line class="ce" x1="3" y1="842.5" x2="1654" y2="842.5" stroke="#c0c0c0" stroke-width="1" stroke-dasharray="3,3"/>
<line class="ce" x1="3" y1="903.5" x2="1654" y2="903.5" stroke="#c0c0c0" stroke-width="1" stroke-dasharray="3,3"/>
<polyline class="ce" points="0.0,879.0 4.0,883.0 12.0,877.0 20.0,875.0 28.0,884.4 36.0,876.6 44.0,849.0 52.0,847.0 60.0,845.4 68.0,841.4 76.0,841.4 84.0,838.0 92.0,833.4 100.0,829.4 108.0,827.0 116.0,829.0 124.0,837.0 132.0,838.4 140.0,840.0 148.0,842.0 156.0,833.0 164.0,828.4 172.0,827.0 179.0,826.0 187.0,831.0 196.0,842.0 204.0,856.0 212.0,862.4 220.0,861.4 228.0,864.4 236.0,872.4 244.0,874.4 252.0,857.4 260.0,862.0 268.0,858.4 276.0,858.4 284.0,862.0 292.0,834.4 300.0,839.4 308.0,836.0 316.0,838.4 324.0,837.0 332.0,829.6 340.0,826.0 348.0,834.4 356.0,831.4 364.0,832.4 372.0,825.4 380.0,824.4 388.0,829.4 396.0,823.6 404.0,822.4 412.0,819.4 420.0,819.4 428.0,818.0 436.0,816.0 444.0,831.0 452.0,837.0 460.0,833.4 468.0,830.4 476.0,830.4 484.0,833.4 492.0,833.4 500.0,840.4 508.0,840.4 516.0,843.4 524.0,846.4 532.0,832.4 540.0,824.4 548.0,824.4 556.0,808.4 564.0,807.0 572.0,809.0 580.0,811.0 588.0,818.4 596.0,824.4 604.0,822.4 612.0,821.0 620.0,822.4 628.0,821.0 636.0,825.4 644.0,844.4 652.0,843.4 660.0,832.4 668.0,831.0 676.0,811.0 680.0,809.4 684.0,806.4 692.0,824.0 700.0,836.0 708.0,838.4 716.0,835.4 724.0,837.0 732.0,833.0 740.0,828.4 748.0,833.4 756.0,832.0 764.0,833.4 772.0,844.0 780.0,862.4 788.0,833.4 796.0,840.0 804.0,842.4 812.0,837.0 820.0,841.4 828.0,842.4 836.0,831.4 844.0,824.0 852.0,825.4 860.0,821.0 868.0,828.0 876.0,829.4 884.0,821.0 892.0,843.0 900.0,843.4 908.0,845.4 916.0,847.4 924.0,847.4 932.0,844.4 940.0,844.4 948.0,846.4 956.0,845.4 964.0,846.4 972.0,848.4 980.0,846.0 988.0,849.4 996.0,867.0 1004.0,862.0 1012.0,857.0 1020.0,859.0 1028.0,857.0 1036.0,842.4 1044.0,858.0 1052.0,859.4 1060.0,854.0 1068.0,855.4 1076.0,843.0 1084.0,861.0 1092.0,851.0 1100.0,853.4 1108.0,846.4 1116.0,846.4 1124.0,844.0 1132.0,854.4 1140.0,874.4 1148.0,854.0 1156.0,856.4 1164.0,849.4 1172.0,848.0 1180.0,851.4 1188.0,868.4 1196.0,859.0 1204.0,869.0 1212.0,868.4 1220.0,870.4 1228.0,870.4 1236.0,864.4 1244.0,882.4 1252.0,887.4 1260.0,887.4 1268.0,889.4 1276.0,883.4 1284.0,890.4 1292.0,882.4 1300.0,881.0 1308.0,877.0 1316.0,881.4 1324.0,886.0 1332.0,895.0 1340.0,900.4 1348.0,898.0 1356.0,901.0 1364.0,905.0 1372.0,871.0 1380.0,864.0 1388.0,842.0 1396.0,838.0 1404.0,836.0 1412.0,836.0" fill="none" stroke="#1e90ff" stroke-width="1" stroke-linejoin="round"/>
<text class="ax" x="1" y="768" textLength="67" lengthAdjust="spacingAndGlyphs">RSI(14) 53.9066</text>
<line class="ce" x1="1140.0" y1="855.5" x2="1359.9" y2="899.8" stroke="#ff0000" stroke-width="3.7"/>
<polygon class="ce" points="1365.0,900.8 1353.8,903.4 1355.7,894.0" fill="#ff0000"/>
<line class="ce" x1="1365.0" y1="900.8" x2="1406.6" y2="832.2" stroke="#ff0000" stroke-width="3.4"/>
<polygon class="ce" points="1409.4,827.5 1408.0,839.5 1399.4,834.3" fill="#ff0000"/>
<text class="ax" x="1658.0" y="766.0" textLength="15.2" lengthAdjust="spacingAndGlyphs">100</text>
<text class="ax" x="1658.0" y="795.0" textLength="10.2" lengthAdjust="spacingAndGlyphs">80</text>
<text class="ax" x="1658.0" y="846.0" textLength="10.2" lengthAdjust="spacingAndGlyphs">50</text>
<text class="ax" x="1658.0" y="907.0" textLength="10.2" lengthAdjust="spacingAndGlyphs">15</text>
<text class="ax" x="1658.0" y="926.0" textLength="5.1" lengthAdjust="spacingAndGlyphs">0</text>
<rect class="ce" x="1655" y="928" width="1" height="1" fill="#000"/>
</g>
<g id="time">
<rect class="ce" x="-4" y="930" width="1" height="3" fill="#000"/>
<text class="ax" x="-4" y="941.5" textLength="53" lengthAdjust="spacingAndGlyphs">12 May 2021</text>
<rect class="ce" x="60" y="930" width="1" height="3" fill="#000"/>
<text class="ax" x="60" y="941.5" textLength="57" lengthAdjust="spacingAndGlyphs">13 May 20:00</text>
<rect class="ce" x="124" y="930" width="1" height="3" fill="#000"/>
<text class="ax" x="124" y="941.5" textLength="57" lengthAdjust="spacingAndGlyphs">17 May 00:00</text>
<rect class="ce" x="188" y="930" width="1" height="3" fill="#000"/>
<text class="ax" x="188" y="941.5" textLength="57" lengthAdjust="spacingAndGlyphs">18 May 08:00</text>
<rect class="ce" x="252" y="930" width="1" height="3" fill="#000"/>
<text class="ax" x="252" y="941.5" textLength="57" lengthAdjust="spacingAndGlyphs">19 May 16:00</text>
<rect class="ce" x="316" y="930" width="1" height="3" fill="#000"/>
<text class="ax" x="316" y="941.5" textLength="57" lengthAdjust="spacingAndGlyphs">21 May 00:00</text>
<rect class="ce" x="380" y="930" width="1" height="3" fill="#000"/>
<text class="ax" x="380" y="941.5" textLength="57" lengthAdjust="spacingAndGlyphs">24 May 04:00</text>
<rect class="ce" x="444" y="930" width="1" height="3" fill="#000"/>
<text class="ax" x="444" y="941.5" textLength="57" lengthAdjust="spacingAndGlyphs">25 May 12:00</text>
<rect class="ce" x="508" y="930" width="1" height="3" fill="#000"/>
<text class="ax" x="508" y="941.5" textLength="57" lengthAdjust="spacingAndGlyphs">26 May 20:00</text>
<rect class="ce" x="572" y="930" width="1" height="3" fill="#000"/>
<text class="ax" x="572" y="941.5" textLength="57" lengthAdjust="spacingAndGlyphs">28 May 04:00</text>
<rect class="ce" x="636" y="930" width="1" height="3" fill="#000"/>
<text class="ax" x="636" y="941.5" textLength="57" lengthAdjust="spacingAndGlyphs">31 May 08:00</text>
<rect class="ce" x="700" y="930" width="1" height="3" fill="#000"/>
<text class="ax" x="700" y="941.5" textLength="47" lengthAdjust="spacingAndGlyphs">1 Jun 16:00</text>
<rect class="ce" x="764" y="930" width="1" height="3" fill="#000"/>
<text class="ax" x="764" y="941.5" textLength="47" lengthAdjust="spacingAndGlyphs">3 Jun 00:00</text>
<rect class="ce" x="828" y="930" width="1" height="3" fill="#000"/>
<text class="ax" x="828" y="941.5" textLength="47" lengthAdjust="spacingAndGlyphs">4 Jun 08:00</text>
<rect class="ce" x="892" y="930" width="1" height="3" fill="#000"/>
<text class="ax" x="892" y="941.5" textLength="47" lengthAdjust="spacingAndGlyphs">7 Jun 12:00</text>
<rect class="ce" x="956" y="930" width="1" height="3" fill="#000"/>
<text class="ax" x="956" y="941.5" textLength="47" lengthAdjust="spacingAndGlyphs">8 Jun 20:00</text>
<rect class="ce" x="1020" y="930" width="1" height="3" fill="#000"/>
<text class="ax" x="1020" y="941.5" textLength="52" lengthAdjust="spacingAndGlyphs">10 Jun 04:00</text>
<rect class="ce" x="1084" y="930" width="1" height="3" fill="#000"/>
<text class="ax" x="1084" y="941.5" textLength="52" lengthAdjust="spacingAndGlyphs">11 Jun 12:00</text>
<rect class="ce" x="1148" y="930" width="1" height="3" fill="#000"/>
<text class="ax" x="1148" y="941.5" textLength="52" lengthAdjust="spacingAndGlyphs">14 Jun 16:00</text>
<rect class="ce" x="1212" y="930" width="1" height="3" fill="#000"/>
<text class="ax" x="1212" y="941.5" textLength="52" lengthAdjust="spacingAndGlyphs">16 Jun 00:00</text>
<rect class="ce" x="1276" y="930" width="1" height="3" fill="#000"/>
<text class="ax" x="1276" y="941.5" textLength="52" lengthAdjust="spacingAndGlyphs">17 Jun 08:00</text>
<rect class="ce" x="1340" y="930" width="1" height="3" fill="#000"/>
<text class="ax" x="1340" y="941.5" textLength="52" lengthAdjust="spacingAndGlyphs">18 Jun 16:00</text>
<rect class="ce" x="1404" y="930" width="1" height="3" fill="#000"/>
<text class="ax" x="1404" y="941.5" textLength="52" lengthAdjust="spacingAndGlyphs">21 Jun 20:00</text>
</g>
<g id="panel">
<polygon points="0,39 3,35 6.5,39" fill="#000"/>
<text class="ax" x="11.5" y="40" textLength="185" lengthAdjust="spacingAndGlyphs" xml:space="preserve">DJ30-,H4  33799.0 33799.0 33792.0 33792.0</text>
<rect class="ce" x="0" y="46" width="220" height="61" fill="#ffffff"/>
<rect class="ce" x="51" y="48" width="115" height="24" fill="#f4f4f4"/>
<path class="ce" d="M0,48H51V72H108V105H0Z" fill="url(#gr)"/>
<path class="ce" d="M166,48H218V105H110V72H166Z" fill="url(#gr)"/>
<rect class="ce" x="3" y="72" width="44" height="1" fill="#a01010"/>
<rect class="ce" x="170" y="72" width="44" height="1" fill="#a01010"/>
<text x="11.5" y="64" font-size="11.5" fill="#fff" textLength="26" lengthAdjust="spacingAndGlyphs">SELL</text>
<text x="179.5" y="64" font-size="11.5" fill="#fff" textLength="23.5" lengthAdjust="spacingAndGlyphs">BUY</text>
<rect class="ce" x="53.5" y="48.5" width="110" height="21" fill="#fff" stroke="#a0a0a0"/>
<rect class="ce" x="54" y="49" width="20" height="20" fill="url(#gb)"/>
<rect class="ce" x="143" y="49" width="20" height="20" fill="url(#gb)"/>
<rect class="ce" x="74" y="49" width="1" height="20" fill="#a0a0a0"/><rect class="ce" x="142" y="49" width="1" height="20" fill="#a0a0a0"/>
<polygon points="61,57.3 66.4,57.3 63.7,60.3" fill="#5562c4"/>
<polygon points="150,60.2 155.4,60.2 152.7,57.2" fill="#5562c4"/>
<text x="115" y="63" font-size="12" fill="#000" stroke="#000" stroke-width="0.15" textLength="23.6" lengthAdjust="spacingAndGlyphs">1.00</text>
<text x="15.3" y="100" font-size="11.5" font-weight="bold" fill="#fff" textLength="34.2" lengthAdjust="spacingAndGlyphs">33790</text>
<text x="51.4" y="100" font-size="33" fill="#fff">.5</text>
<text x="125.3" y="100" font-size="11.5" font-weight="bold" fill="#fff" textLength="34.2" lengthAdjust="spacingAndGlyphs">33800</text>
<text x="162" y="100" font-size="33" fill="#fff">.5</text>
</g>
<polygon points="1415,29 1426,29 1420.5,34.5" fill="#c0c0c0"/>
<g id="toolbar">
<rect class="ce" x="0" y="0" width="1701" height="24" fill="#f0f0f0"/>
<rect class="ce" x="0" y="24" width="1700" height="1" fill="#a6a6a6"/>
<rect class="ce" x="0" y="25" width="1700" height="1" fill="#6a6a6a"/>
<rect class="ce" x="0" y="26" width="1701" height="2" fill="#ffffff"/>
<rect class="ce" x="1700" y="25" width="1" height="919" fill="#e3e3e3"/>
<circle cx="-0.5" cy="10" r="5.4" fill="#cfe8fa" stroke="#3a7ad0" stroke-width="1.5"/><line x1="3.5" y1="14.5" x2="7" y2="19" stroke="#c89628" stroke-width="3" stroke-linecap="round"/>
<rect class="ce" x="15" y="1" width="1" height="21" fill="#a0a0a0"/><circle cx="14" cy="9.500" r="1.100" fill="#f0f0f0" stroke="#404040" stroke-width="0.700"/>
<path d="M25.500,4.500H33L37,8.500V18.500H25.500Z" fill="#fcfcfc" stroke="#8a8a8a" stroke-width="1"/><path d="M33,4.500V8.500H37" fill="#e4e4e4" stroke="#8a8a8a" stroke-width="0.800"/>
<path d="M27.500,8H31.500M27.500,10.500H33M27.500,13H30" stroke="#9a9a9a" stroke-width="1"/>
<path d="M33.3,10.7H37.1V14.4H40.8V18.2H37.1V21.9H33.3V18.2H29.6V14.4H33.3Z" fill="#2fd02f" stroke="#118a11" stroke-width="0.9" stroke-linejoin="round"/>
<text x="44" y="15.5" font-size="12" fill="#000" stroke="#000" stroke-width="0.25" textLength="35.5" lengthAdjust="spacingAndGlyphs">新订单</text>
<path d="M92.200,13.300L97.300,5.100Q103,7.500 107.900,12.600L100.400,19.800Z" fill="url(#gold)" stroke="#9a6c0c" stroke-width="0.800" stroke-linejoin="round"/>
<path d="M92.200,13.300L100.400,19.800L101.800,18.300L94,12.300Z" fill="#8a5a08"/><path d="M97.500,6.200Q102,8 106,12" stroke="#fff2b0" stroke-width="1" fill="none"/>
<path d="M122.200,6L125,4.400H132.800V11.600H125L122.200,13Z" fill="#1a6ae0" stroke="#1450b0" stroke-width="0.600"/><rect x="125" y="4.400" width="7.800" height="7.200" fill="#4aa0f4"/><rect x="127" y="6.300" width="4.500" height="1.200" fill="#e8f4ff"/><rect x="127" y="8.600" width="4.500" height="1.200" fill="#e8f4ff"/>
<path d="M123,19.800a3,3 0 0 1 -0.300,-5.900a3.800,3.800 0 0 1 6.800,-1.400a3.300,3.300 0 0 1 4.600,2.600a2.400,2.400 0 0 1 -0.600,4.700Z" fill="#eef3fb" stroke="#6a88c0" stroke-width="0.900"/>
<circle cx="156" cy="11.900" r="7.400" fill="none" stroke="#a8c6ee" stroke-width="1.200"/><circle cx="156" cy="11.900" r="4.600" fill="none" stroke="#6f9fe0" stroke-width="1.200"/>
<path d="M156,19.300A7.400,7.400 0 0 0 163.400,11.900" fill="none" stroke="#7cc47c" stroke-width="1.400"/><path d="M156,16.500A4.600,4.600 0 0 0 160.600,11.900" fill="none" stroke="#5cb45c" stroke-width="1.400"/>
<path d="M156.300,12V19.800" stroke="#1a9a1a" stroke-width="1.300"/><circle cx="156" cy="11.900" r="1.900" fill="#2458c8"/>
<path d="M175.700,10.200L182.200,19.800L190.400,10.200Q183,13.800 175.700,10.200Z" fill="#f4d040" stroke="#c09010" stroke-width="0.600"/>
<ellipse cx="183.200" cy="8" rx="7.500" ry="3" fill="#5aa0e0" stroke="#2a6ab8" stroke-width="0.700"/><ellipse cx="182.900" cy="6" rx="3.700" ry="2.400" fill="#7cbcf0" stroke="#3a7ac8" stroke-width="0.500"/>
<circle cx="187.300" cy="15.800" r="4" fill="#e01818" stroke="#b01010" stroke-width="0.500"/><rect x="185.800" y="14.300" width="3" height="3" fill="#fff"/>
<text x="197" y="15.5" font-size="12" fill="#000" stroke="#000" stroke-width="0.25" textLength="46" lengthAdjust="spacingAndGlyphs">自动交易</text>
<rect class="ce" x="251" y="1" width="1" height="21" fill="#a0a0a0"/>
<rect class="ce" x="255" y="2" width="3" height="1" fill="#a8a8a8"/>
<rect class="ce" x="255" y="4" width="3" height="1" fill="#a8a8a8"/>
<rect class="ce" x="255" y="6" width="3" height="1" fill="#a8a8a8"/>
<rect class="ce" x="255" y="8" width="3" height="1" fill="#a8a8a8"/>
<rect class="ce" x="255" y="10" width="3" height="1" fill="#a8a8a8"/>
<rect class="ce" x="255" y="12" width="3" height="1" fill="#a8a8a8"/>
<rect class="ce" x="255" y="14" width="3" height="1" fill="#a8a8a8"/>
<rect class="ce" x="255" y="16" width="3" height="1" fill="#a8a8a8"/>
<rect class="ce" x="255" y="18" width="3" height="1" fill="#a8a8a8"/>
<rect class="ce" x="255" y="20" width="3" height="1" fill="#a8a8a8"/>
<rect class="ce" x="269" y="7" width="1" height="13" fill="#555555"/><rect class="ce" x="266" y="17" width="14" height="1" fill="#555555"/>
<polygon points="267.7,8.5 269.5,5.8 271.3,8.5" fill="#555555"/>
<polygon points="278.5,15.7 281.2,17.5 278.5,19.3" fill="#555555"/>
<rect class="ce" x="275" y="7" width="2" height="9" fill="#0a8a0a"/><rect class="ce" x="277" y="8" width="2" height="1" fill="#0a8a0a"/><rect class="ce" x="273" y="14" width="2" height="1" fill="#0a8a0a"/>
<rect class="ce" x="289" y="0" width="25" height="23" fill="#f9f9f9"/>
<rect class="ce" x="289" y="0" width="25" height="1" fill="#8c8c8c"/><rect class="ce" x="289" y="0" width="1" height="22" fill="#8c8c8c"/>
<rect class="ce" x="290" y="22" width="25" height="1" fill="#ffffff"/><rect class="ce" x="314" y="1" width="1" height="22" fill="#ffffff"/>
<rect class="ce" x="297" y="7" width="1" height="13" fill="#555555"/><rect class="ce" x="294" y="17" width="14" height="1" fill="#555555"/>
<polygon points="295.7,8.5 297.5,5.8 299.3,8.5" fill="#555555"/>
<polygon points="306.5,15.7 309.2,17.5 306.5,19.3" fill="#555555"/>
<rect class="ce" x="303" y="4" width="1" height="12" fill="#0a7a0a"/><rect x="301.500" y="6.500" width="4" height="7" fill="#3ee03e" stroke="#0a8a0a" stroke-width="1"/>
<rect class="ce" x="325" y="7" width="1" height="13" fill="#555555"/><rect class="ce" x="322" y="17" width="14" height="1" fill="#555555"/>
<polygon points="323.7,8.5 325.5,5.8 327.3,8.5" fill="#555555"/>
<polygon points="334.5,15.7 337.2,17.5 334.5,19.3" fill="#555555"/>
<path d="M324.200,14.700C327,12 328.500,9.200 330.300,9.200C332,9.200 333.500,12.500 335.800,13" stroke="#1a8a1a" stroke-width="1.200" fill="none"/>
<rect class="ce" x="346" y="1" width="1" height="21" fill="#a0a0a0"/>
<line x1="365.3" y1="14.5" x2="369.8" y2="18.6" stroke="#b8901c" stroke-width="3.6" stroke-linecap="round"/>
<line x1="365.3" y1="14.5" x2="369.8" y2="18.6" stroke="#f0d040" stroke-width="2" stroke-linecap="round"/>
<circle cx="361.0" cy="10.2" r="5.4" fill="#cfe8fa" stroke="#3a7ad0" stroke-width="1.5"/>
<path d="M357.8,10.2H364.2" stroke="#4a88b8" stroke-width="2"/>
<path d="M361.0,7.0V13.4" stroke="#4a88b8" stroke-width="2"/>
<line x1="393.3" y1="14.4" x2="397.8" y2="18.5" stroke="#b8901c" stroke-width="3.6" stroke-linecap="round"/>
<line x1="393.3" y1="14.4" x2="397.8" y2="18.5" stroke="#f0d040" stroke-width="2" stroke-linecap="round"/>
<circle cx="389.0" cy="10.1" r="5.4" fill="#cfe8fa" stroke="#3a7ad0" stroke-width="1.5"/>
<path d="M385.8,10.1H392.2" stroke="#4a88b8" stroke-width="2"/>
<rect x="411.0" y="4.0" width="7.900" height="7.800" fill="#3aa422"/><rect x="412.4" y="7.0" width="5.200" height="3.600" fill="#f4f8ff"/><rect x="413.4" y="8.1" width="3.200" height="1" fill="#3aa422" opacity="0.600"/>
<rect x="419.2" y="4.0" width="7.900" height="7.800" fill="#2a62d8"/><rect x="420.6" y="7.0" width="5.200" height="3.600" fill="#f4f8ff"/><rect x="421.6" y="8.1" width="3.200" height="1" fill="#2a62d8" opacity="0.600"/>
<rect x="411.0" y="12.1" width="7.900" height="7.800" fill="#2a62d8"/><rect x="412.4" y="15.1" width="5.200" height="3.600" fill="#f4f8ff"/><rect x="413.4" y="16.2" width="3.200" height="1" fill="#2a62d8" opacity="0.600"/>
<rect x="419.2" y="12.1" width="7.900" height="7.800" fill="#3aa422"/><rect x="420.6" y="15.1" width="5.200" height="3.600" fill="#f4f8ff"/><rect x="421.6" y="16.2" width="3.200" height="1" fill="#3aa422" opacity="0.600"/>
<rect class="ce" x="436" y="1" width="1" height="21" fill="#a0a0a0"/>
<rect class="ce" x="441" y="0" width="25" height="23" fill="#f9f9f9"/>
<rect class="ce" x="441" y="0" width="25" height="1" fill="#8c8c8c"/><rect class="ce" x="441" y="0" width="1" height="22" fill="#8c8c8c"/>
<rect class="ce" x="442" y="22" width="25" height="1" fill="#ffffff"/><rect class="ce" x="466" y="1" width="1" height="22" fill="#ffffff"/>
<rect class="ce" x="449" y="7" width="1" height="13" fill="#555555"/><rect class="ce" x="446" y="17" width="14" height="1" fill="#555555"/>
<polygon points="447.7,8.5 449.5,5.8 451.3,8.5" fill="#555555"/>
<polygon points="458.5,15.7 461.2,17.5 458.5,19.3" fill="#555555"/>
<polygon points="454.100,8.200 454.100,14.800 458.300,11.500" fill="#8ee08e" stroke="#1a9a1a" stroke-width="1.100"/>
<rect class="ce" x="469" y="0" width="25" height="23" fill="#f9f9f9"/>
<rect class="ce" x="469" y="0" width="25" height="1" fill="#8c8c8c"/><rect class="ce" x="469" y="0" width="1" height="22" fill="#8c8c8c"/>
<rect class="ce" x="470" y="22" width="25" height="1" fill="#ffffff"/><rect class="ce" x="494" y="1" width="1" height="22" fill="#ffffff"/>
<rect class="ce" x="477" y="7" width="1" height="13" fill="#555555"/><rect class="ce" x="474" y="17" width="14" height="1" fill="#555555"/>
<polygon points="475.7,8.5 477.5,5.8 479.3,8.5" fill="#555555"/>
<polygon points="486.5,15.7 489.2,17.5 486.5,19.3" fill="#555555"/>
<rect class="ce" x="483" y="6" width="1" height="10" fill="#1a6a9a"/><path d="M489.500,11.500H485M487.200,9.300L484.800,11.500L487.200,13.700" stroke="#d84010" stroke-width="1.200" fill="none"/>
<rect class="ce" x="498" y="1" width="1" height="21" fill="#a0a0a0"/>
<path d="M508.500,4.500H516L519.500,8V17.500H508.500Z" fill="#fcfcfc" stroke="#7a7a7a" stroke-width="0.900"/><path d="M516,4.500V8H519.500" fill="#e0e0e0" stroke="#7a7a7a" stroke-width="0.700"/><path d="M513.500,7.500Q511.500,7 511.500,9V14M510.300,10.500H513" stroke="#404040" fill="none" stroke-width="0.900"/>
<path d="M516.4,10.5H520.0V14.3H523.8V17.9H520.0V21.7H516.4V17.9H512.6V14.3H516.4Z" fill="#2fd02f" stroke="#118a11" stroke-width="0.9" stroke-linejoin="round"/>
<polygon points="529.7,11 535.3,11 532.5,14" fill="#000"/>
<circle cx="554.100" cy="11.900" r="7.300" fill="#f6faff" stroke="#1f6fd8" stroke-width="2.200"/><circle cx="554.100" cy="11.900" r="8.200" fill="none" stroke="#1450a8" stroke-width="0.500"/><path d="M554.100,7.800V12H557" stroke="#303030" stroke-width="1.100" fill="none"/>
<polygon points="568.7,11 574.3,11 571.5,14" fill="#000"/>
<rect x="585.500" y="5.500" width="15.500" height="13" fill="#fafcff" stroke="#2a6ad0" stroke-width="1"/><rect x="585.500" y="5.500" width="15.500" height="2.200" fill="#3a7ae0"/><path class="ce" d="M586,12.500H601" stroke="#3a7ae0" stroke-width="1"/>
<path d="M587.500,11L590,10.200L592,9.300L594.500,10.300L597,9.300L599.500,9" stroke="#b02010" fill="none" stroke-width="1.200"/><path d="M588,16.600L590.500,15.600L592.500,16.300L595,14.400L597,15.300L599,16.500" stroke="#1a9a1a" fill="none" stroke-width="1.200"/>
<polygon points="607.7,11 613.3,11 610.5,14" fill="#000"/>
<rect class="ce" x="619" y="1" width="1" height="21" fill="#a0a0a0"/>
<rect class="ce" x="623" y="2" width="3" height="1" fill="#a8a8a8"/>
<rect class="ce" x="623" y="4" width="3" height="1" fill="#a8a8a8"/>
<rect class="ce" x="623" y="6" width="3" height="1" fill="#a8a8a8"/>
<rect class="ce" x="623" y="8" width="3" height="1" fill="#a8a8a8"/>
<rect class="ce" x="623" y="10" width="3" height="1" fill="#a8a8a8"/>
<rect class="ce" x="623" y="12" width="3" height="1" fill="#a8a8a8"/>
<rect class="ce" x="623" y="14" width="3" height="1" fill="#a8a8a8"/>
<rect class="ce" x="623" y="16" width="3" height="1" fill="#a8a8a8"/>
<rect class="ce" x="623" y="18" width="3" height="1" fill="#a8a8a8"/>
<rect class="ce" x="623" y="20" width="3" height="1" fill="#a8a8a8"/>
<rect class="ce" x="629" y="0" width="25" height="23" fill="#f9f9f9"/>
<rect class="ce" x="629" y="0" width="25" height="1" fill="#8c8c8c"/><rect class="ce" x="629" y="0" width="1" height="22" fill="#8c8c8c"/>
<rect class="ce" x="630" y="22" width="25" height="1" fill="#ffffff"/><rect class="ce" x="654" y="1" width="1" height="22" fill="#ffffff"/>
<path d="M636.900,5.200V15.800L639.600,13.300L642,18.900L644,18L641.600,12.600L645.200,12.300Z" fill="#484848"/>
<path class="ce" d="M669.500,5V20M662,12.500H677" stroke="#505050" stroke-width="1"/><rect class="ce" x="668" y="11" width="3" height="3" fill="#f0f0f0"/><rect class="ce" x="669" y="12" width="1" height="1" fill="#505050"/>
<rect class="ce" x="686" y="1" width="1" height="21" fill="#a0a0a0"/>
<rect class="ce" x="703" y="6" width="1" height="13" fill="#505050"/><rect class="ce" x="726" y="12" width="12" height="1" fill="#505050"/><path d="M754,18.800L765.800,6.800" stroke="#505050" stroke-width="1.100"/>
<path d="M779.500,13.500L791,5M780.500,17.500L793,8.500M784,18.500L793.500,11.500" stroke="#505050" stroke-width="0.900" fill="none"/><path d="M783,11V18M786.500,8.500V16M790,6V13.500" stroke="#505050" stroke-width="0.800"/>
<text x="790.700" y="20.600" font-size="6.500" font-weight="bold" fill="#303030">E</text>
<path class="ce" d="M809,5.500H822.500M809,8.500H822.500M809,12.500H822.500M809,16.500H818" stroke="#606060" stroke-width="1" stroke-dasharray="1,1"/><text x="818.800" y="20.600" font-size="6.500" font-weight="bold" fill="#303030">F</text>
<text x="839.500" y="16.800" font-size="12" font-weight="bold" fill="#5a5a5a" textLength="8.500" lengthAdjust="spacingAndGlyphs">A</text>
<rect class="ce" x="866.500" y="6.500" width="11" height="12" fill="none" stroke="#505050" stroke-dasharray="1,1"/><text x="868.200" y="16.600" font-size="10.500" font-weight="bold" fill="#505050" textLength="7.400" lengthAdjust="spacingAndGlyphs">T</text>
<polygon points="893.200,8.500 896.500,6 899.800,8.500 896.500,10.900" fill="#404040"/><polygon points="900.800,16.200 903.900,14 907,16.200 903.900,18.400" fill="#404040"/><path d="M895.500,13L897.800,15.200L902.500,10" stroke="#404040" stroke-width="1.200" fill="none"/>
<polygon points="913.7,11 919.3,11 916.5,14" fill="#000"/>
<rect class="ce" x="925" y="1" width="1" height="21" fill="#a0a0a0"/>
<rect class="ce" x="929" y="2" width="3" height="1" fill="#a8a8a8"/>
<rect class="ce" x="929" y="4" width="3" height="1" fill="#a8a8a8"/>
<rect class="ce" x="929" y="6" width="3" height="1" fill="#a8a8a8"/>
<rect class="ce" x="929" y="8" width="3" height="1" fill="#a8a8a8"/>
<rect class="ce" x="929" y="10" width="3" height="1" fill="#a8a8a8"/>
<rect class="ce" x="929" y="12" width="3" height="1" fill="#a8a8a8"/>
<rect class="ce" x="929" y="14" width="3" height="1" fill="#a8a8a8"/>
<rect class="ce" x="929" y="16" width="3" height="1" fill="#a8a8a8"/>
<rect class="ce" x="929" y="18" width="3" height="1" fill="#a8a8a8"/>
<rect class="ce" x="929" y="20" width="3" height="1" fill="#a8a8a8"/>
<text class="tb" x="940.0" y="16" textLength="14.0" lengthAdjust="spacingAndGlyphs">M1</text>
<text class="tb" x="968.0" y="16" textLength="14.0" lengthAdjust="spacingAndGlyphs">M5</text>
<text class="tb" x="994.5" y="16" textLength="18.0" lengthAdjust="spacingAndGlyphs">M15</text>
<text class="tb" x="1022.5" y="16" textLength="18.0" lengthAdjust="spacingAndGlyphs">M30</text>
<text class="tb" x="1053.5" y="16" textLength="12.5" lengthAdjust="spacingAndGlyphs">H1</text>
<rect class="ce" x="1075" y="0" width="25" height="23" fill="#f9f9f9"/>
<rect class="ce" x="1075" y="0" width="25" height="1" fill="#8c8c8c"/><rect class="ce" x="1075" y="0" width="1" height="22" fill="#8c8c8c"/>
<rect class="ce" x="1076" y="22" width="25" height="1" fill="#ffffff"/><rect class="ce" x="1100" y="1" width="1" height="22" fill="#ffffff"/>
<text class="tb" x="1080.5" y="16" textLength="13.0" lengthAdjust="spacingAndGlyphs">H4</text>
<text class="tb" x="1109.0" y="16" textLength="12.5" lengthAdjust="spacingAndGlyphs">D1</text>
<text class="tb" x="1136.5" y="16" textLength="15.0" lengthAdjust="spacingAndGlyphs">W1</text>
<text class="tb" x="1163.5" y="16" textLength="15.0" lengthAdjust="spacingAndGlyphs">MN</text>
<rect class="ce" x="1186" y="1" width="1" height="21" fill="#a0a0a0"/>
<line x1="1653.300" y1="12.700" x2="1649.400" y2="16.600" stroke="#2a5cc8" stroke-width="3" stroke-linecap="round"/><circle cx="1656.500" cy="9.500" r="3.900" fill="#f4f6ff" stroke="#2a62d0" stroke-width="1.400"/>
<path d="M1675.800,19.800l1,-2.200a5.300,4.500 0 1 1 2.600,0.800Z" fill="#e6e8f0" stroke="#a4a6ae" stroke-width="0.900" stroke-linejoin="round"/>
<circle cx="1687.500" cy="9.300" r="8.200" fill="#e03a22"/><circle cx="1687.500" cy="12" r="5.500" fill="#d82010" opacity="0.500"/>
<text x="1687.300" y="13.600" font-size="13.500" font-weight="bold" fill="#fff" text-anchor="middle" style="font-family:'Liberation Serif',serif">1</text>
</g>
</svg></body></html>
